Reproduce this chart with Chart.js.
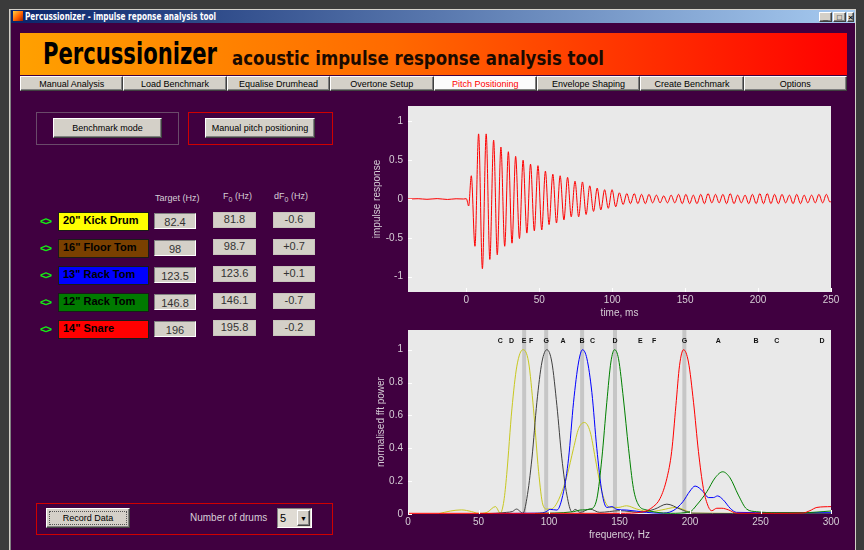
<!DOCTYPE html>
<html><head><meta charset="utf-8">
<script src="https://cdn.jsdelivr.net/npm/chart.js@4.4.1/dist/chart.umd.min.js"></script>
<style>
body{margin:0;width:864px;height:550px;overflow:hidden;background:#3b3b3b;font-family:"Liberation Sans",Arial,sans-serif;position:relative}
.a{position:absolute;box-sizing:border-box}
.btn{background:#d4d0c8;border-top:1px solid #fff;border-left:1px solid #fff;border-right:1px solid #404040;border-bottom:1px solid #404040;box-shadow:inset -1px -1px #808080;font-size:9px;color:#000;display:flex;align-items:center;justify-content:center;white-space:nowrap}
.fit{display:inline-block;white-space:nowrap;transform-origin:0 50%}
.lbl{color:#d6ced6;font-size:9px;white-space:nowrap}
.name{border:1px solid #1a1a1a;font-weight:bold;font-size:11px;color:#000;padding:1px 0 0 4px;line-height:13px;white-space:nowrap}
.tgt{background:#d4d0c8;border-top:1px solid #808080;border-left:1px solid #808080;border-bottom:1px solid #fff;border-right:1px solid #fff;font-size:11px;color:#333;text-align:center;line-height:17px}
.val{background:#d4d0c8;font-size:11px;color:#333;text-align:center;line-height:12px;border:1px solid #c8c4bc}
.arr{color:#10f010;font-weight:bold;font-size:11px;letter-spacing:-1px}
</style></head><body>
<div class="a" style="left:9px;top:9px;width:847px;height:545px;background:#d4d0c8"></div>
<div class="a" style="left:10px;top:10px;width:845px;height:541px;background:#808080"></div>
<div class="a" style="left:11px;top:10px;width:844px;height:13px;background:linear-gradient(90deg,#0a246a,#a6caf0)"></div>
<div class="a" style="left:13px;top:11px;width:10px;height:10px;background:linear-gradient(135deg,#ffd040,#ff6000 55%,#a02000)"></div>
<div class="a" style="left:25px;top:10px;height:13px;line-height:13px;color:#fff;font-weight:bold;font-size:11px;font-family:'DejaVu Sans Condensed','DejaVu Sans'"><span class="fit" id="wtitle">Percussionizer - impulse reponse analysis tool</span></div>
<div class="a btn" style="left:819px;top:12px;width:13px;height:10px;font-size:9px;line-height:8px;align-items:flex-end;font-weight:bold">_</div>
<div class="a btn" style="left:833px;top:12px;width:13px;height:10px;font-size:8px;font-weight:bold">□</div>
<div class="a btn" style="left:847px;top:12px;width:7px;height:10px;font-size:8px;font-weight:bold">×</div>
<div class="a" style="left:11px;top:23px;width:844px;height:527px;background:#400040"></div>

<div class="a" style="left:20px;top:33px;width:827px;height:42px;background:linear-gradient(90deg,#ffa000,#ff6a00 45%,#ff0000)"></div>
<div class="a" style="left:43px;top:36px;height:36px;line-height:36px;font-family:'DejaVu Sans Condensed','DejaVu Sans';font-weight:bold;font-size:30px;color:#000"><span class="fit" id="btitle">Percussionizer</span></div>
<div class="a" style="left:232px;top:45px;height:26px;line-height:26px;font-family:'DejaVu Sans';font-weight:bold;font-size:20px;color:#1a0a00"><span class="fit" id="bsub">acoustic impulse response analysis tool</span></div>
<div id="tabs"></div>

<div class="a" style="left:36px;top:112px;width:143px;height:33px;border:1px solid #6a4a6a"></div>
<div class="a btn" style="left:53px;top:118px;width:109px;height:20px">Benchmark mode</div>
<div class="a" style="left:188px;top:112px;width:145px;height:33px;border:1px solid #d00000"></div>
<div class="a btn" style="left:205px;top:118px;width:110px;height:20px">Manual pitch positioning</div>

<div class="a lbl" style="left:155px;top:193px">Target (Hz)</div>
<div class="a lbl" style="left:223px;top:191px">F<sub style="font-size:7px">0</sub> (Hz)</div>
<div class="a lbl" style="left:274px;top:191px">dF<sub style="font-size:7px">0</sub> (Hz)</div>
<div id="rows"></div>

<div class="a" style="left:36px;top:503px;width:297px;height:32px;border:1px solid #d00000"></div>
<div class="a btn" style="left:46px;top:508px;width:84px;height:20px"><div style="border:1px dotted #555;width:76px;height:12px;display:flex;align-items:center;justify-content:center">Record Data</div></div>
<div class="a lbl" style="left:190px;top:512px;font-size:10px">Number of drums</div>
<div class="a" style="left:277px;top:508px;width:35px;height:20px;background:#e0dcd4;border-top:1px solid #808080;border-left:1px solid #808080;border-bottom:1px solid #fff;border-right:1px solid #fff;font-size:11px;line-height:18px;padding-left:2px">5</div>
<div class="a btn" style="left:297px;top:510px;width:13px;height:16px;font-size:7px">▼</div>

<canvas id="c1" class="a" width="475" height="225" style="left:365px;top:100px"></canvas>
<canvas id="c2" class="a" width="475" height="225" style="left:365px;top:325px"></canvas>

<script>
// ---------- data ----------
const tabLabels = ["Manual Analysis","Load Benchmark","Equalise Drumhead","Overtone Setup","Pitch Positioning","Envelope Shaping","Create Benchmark","Options"];
const drumNames = ['20" Kick Drum','16" Floor Tom','13" Rack Tom','12" Rack Tom','14" Snare'];
const drumColors = ["#ffff00","#7a4000","#0000ff","#007a00","#ff0000"];
const targetHz = [82.4, 98, 123.5, 146.8, 196];
const measuredF0 = ["81.8","98.7","123.6","146.1","195.8"];
const deltaF0 = ["-0.6","+0.7","+0.1","-0.7","-0.2"];

const noteLetters = ["C","D","E","F","G","A","B","C","D","E","F","G","A","B","C","D"];
const noteFreqs = [65.4,73.4,82.4,87.3,98,110,123.5,130.8,146.8,164.8,174.6,196,220,246.9,261.6,293.7];

const timeTicks = [0,50,100,150,200,250];
const impulseTicks = [-1,-0.5,0,0.5,1];
const freqTicks = [0,50,100,150,200,250,300];
const powerTicks = [0,0.2,0.4,0.6,0.8,1];

// impulse response: extrema (ms, amplitude)
const impulseTime = [-40,-33,-27,-20,-13,-7,-2,0,1.6,3.4,5.9,8.4,11.0,13.6,16.1,18.7,21.2,23.7,26.3,28.8,31.3,33.8,36.4,38.9,41.5,44.0,46.6,49.1,51.7,54.2,56.7,59.3,61.8,64.3,66.9,69.4,71.9,74.5,77.0,79.6,82.1,84.6,87.2,89.7,92.2,94.8,97.3,99.9,102.4,104.9,107.5,110.0,112.5,115.1,117.6,120.1,122.7,125.2,127.7,130.3,132.8,135.3,137.9,140.4,142.9,145.5,148.0,150.5,153.1,155.6,158.1,160.7,163.2,165.7,168.3,170.8,173.3,175.9,178.4,180.9,183.5,186.0,188.5,191.1,193.6,196.1,198.7,201.2,203.7,206.3,208.8,211.3,213.9,216.4,218.9,221.5,224.0,226.5,229.1,231.6,234.1,236.7,239.2,241.7,244.3,246.8,249.3,250];
const impulseValue = [0,0.004,-0.004,0.005,-0.006,0.003,0,0.004,-0.09,0.30,-0.61,0.84,-0.90,0.84,-0.78,0.76,-0.72,0.67,-0.61,0.61,-0.57,0.55,-0.51,0.50,-0.44,0.45,-0.41,0.43,-0.40,0.36,-0.33,0.32,-0.31,0.30,-0.27,0.28,-0.23,0.23,-0.23,0.22,-0.20,0.17,-0.16,0.14,-0.14,0.12,-0.12,0.12,-0.10,0.08,-0.07,0.07,-0.06,0.07,-0.06,0.06,-0.06,0.06,-0.05,0.05,-0.05,0.04,-0.05,0.05,-0.05,0.06,-0.06,0.06,-0.06,0.05,-0.06,0.06,-0.06,0.07,-0.05,0.06,-0.05,0.06,-0.06,0.07,-0.06,0.05,-0.05,0.05,-0.06,0.06,-0.06,0.07,-0.06,0.07,-0.06,0.06,-0.06,0.06,-0.05,0.05,-0.06,0.06,-0.06,0.05,-0.05,0.05,-0.05,0.06,-0.05,0.06,-0.04,-0.03];

// normalised FFT power per drum (Hz, power)
const kickFreq  = [22,30,38,45,50,56,62,65.5,68,70,73.7,77.2,81.5,85.5,89,92.6,95.7,98.5,101,104,108,112.7,117.4,121,125.2,129.2,132.8,136.3,139.8,143.4,149,155,162.3,171.7,180,190,196,202,230,260,300];
const kickPower = [0.002,0.018,0.025,0.015,0.004,0.01,0.045,0.005,0.08,0.24,0.64,0.90,1.0,0.925,0.64,0.26,0.055,0.03,0.03,0.045,0.11,0.23,0.40,0.52,0.557,0.50,0.34,0.18,0.075,0.04,0.04,0.05,0.03,0.014,0.025,0.04,0.025,0.005,0.004,0.003,0.002];
const floorFreq  = [50,62,70,74,77,80,81.5,84.3,87.9,91.4,95,98.5,102,105.6,109.1,112.7,116.2,118.6,122,129,136,150,164.7,175,183.6,193,202,230,260,300];
const floorPower = [0.002,0.004,0.01,0.015,0.03,0.012,0.004,0.095,0.34,0.68,0.925,1.0,0.925,0.66,0.34,0.115,0.014,0.028,0.01,0.03,0.01,0.02,0.01,0.03,0.06,0.03,0.005,0.003,0.002,0.002];
const rack13Freq  = [60,90,97,100.9,105.6,110.3,113.9,117.4,121,123.8,126.9,130.4,133.9,137.5,141,144.6,148.1,155,169,178.8,188,195,200,203.6,209.5,213,216.6,219.5,223.7,228.5,233,260,300];
const rack13Power = [0.003,0.005,0.01,0.028,0.024,0.135,0.34,0.68,0.925,1.0,0.945,0.74,0.40,0.135,0.04,0.045,0.028,0.024,0.01,0.005,0.02,0.075,0.14,0.17,0.135,0.10,0.10,0.11,0.085,0.035,0.01,0.008,0.008];
const rack12Freq  = [90,117.4,122,129.2,134,137.5,141,143.9,146.5,149.3,152.8,156.4,159.9,163.5,169.4,176.5,186,200,204.8,211.9,217.8,223.2,228.4,234.3,240.2,247.3,261.5,280,300];
const rack12Power = [0.003,0.014,0.024,0.03,0.095,0.34,0.68,0.925,1.0,0.945,0.70,0.40,0.155,0.055,0.024,0.01,0.004,0.014,0.055,0.135,0.22,0.257,0.22,0.115,0.03,0.014,0.008,0.008,0.018];
const snareFreq  = [0,50,100,150,167,174,178.8,183.6,187,190,192.6,195.4,198.9,202.5,206,209.5,213,215.4,219,222.6,227.3,233,260,280,285,290,300];
const snarePower = [0.004,0.004,0.004,0.004,0.014,0.045,0.095,0.217,0.38,0.66,0.905,1.0,0.925,0.68,0.38,0.155,0.045,0.02,0.035,0.035,0.025,0.005,0.004,0.006,0.02,0.04,0.045];

// ---------- HTML widgets ----------
const tabs = document.getElementById('tabs');
tabLabels.forEach((t,i)=>{
  const d=document.createElement('div'); d.className='a btn';
  const l=20+i*103.375;
  d.style.cssText=`left:${l}px;top:76px;width:103.4px;height:15px;`+(i===4?'background:#fbfbfb;color:#ff0000;':'');
  d.textContent=t; tabs.appendChild(d);
});
const rows=document.getElementById('rows');
drumNames.forEach((n,i)=>{
  const top=212+i*27;
  rows.insertAdjacentHTML('beforeend',
   `<div class="a arr" style="left:40px;top:${top+3}px">&lt;&gt;</div>`+
   `<div class="a name" style="left:58px;top:${top}px;width:91px;height:19px;background:${drumColors[i]}">${n}</div>`+
   `<div class="a tgt" style="left:154px;top:${top+1}px;width:42px;height:16px">${targetHz[i]}</div>`+
   `<div class="a val" style="left:213px;top:${top}px;width:43px;height:16px">${measuredF0[i]}</div>`+
   `<div class="a val" style="left:273px;top:${top}px;width:42px;height:16px">${deltaF0[i]}</div>`);
});
function fit(id,w){const e=document.getElementById(id);const r=e.getBoundingClientRect().width;e.style.transform=`scaleX(${w/r})`;}
fit('wtitle',191); fit('btitle',174); fit('bsub',372);

// ---------- charts ----------
Chart.defaults.font.family='"Liberation Sans", Arial, sans-serif';
Chart.defaults.animation=false;
const txtCol='#d6ced6';
const axesPlugin={id:'axesBg',
  beforeDraw(c){const {ctx,chartArea:a}=c;ctx.save();ctx.fillStyle='#e9e9e9';ctx.fillRect(a.left,a.top,a.right-a.left,a.bottom-a.top);ctx.restore();},
  afterDraw(c){const {ctx,chartArea:a,scales:{x,y}}=c;ctx.save();ctx.strokeStyle='#ffffff';ctx.lineWidth=1;ctx.beginPath();
    x.ticks.forEach(t=>{const p=Math.round(x.getPixelForValue(t.value))+0.5;ctx.moveTo(p,a.bottom);ctx.lineTo(p,a.bottom-4);});
    y.ticks.forEach(t=>{const p=Math.round(y.getPixelForValue(t.value))+0.5;ctx.moveTo(a.left,p);ctx.lineTo(a.left+4,p);});
    ctx.stroke();ctx.restore();}};
function axis(min,max,ticks,title,isX,h,tpad){
  return {type:'linear',min,max,
    afterBuildTicks:s=>{s.ticks=ticks.map(v=>({value:v}));},
    afterFit:s=>{if(isX)s.height=h;else s.width=h;s.paddingTop=0;s.paddingBottom=0;s.paddingLeft=0;s.paddingRight=0;},
    grid:{display:false,drawTicks:false},border:{display:false},
    ticks:{color:txtCol,font:{size:10},padding:isX?2:5,autoSkip:false,maxRotation:0,callback:v=>String(v)},
    title:{display:true,text:title,color:txtCol,font:{size:10},padding:isX?{top:0,bottom:tpad}:{top:tpad,bottom:0}}};
}
new Chart(document.getElementById('c1'),{type:'line',
  data:{datasets:[{data:impulseTime.map((t,i)=>({x:t,y:impulseValue[i]})),borderColor:'#ff0000',borderWidth:1,pointRadius:0,cubicInterpolationMode:'monotone'}]},
  options:{responsive:false,devicePixelRatio:1,layout:{padding:{left:0,right:9,top:6,bottom:0}},
    plugins:{legend:{display:false},tooltip:{enabled:false}},
    scales:{x:axis(-40,250,timeTicks,'time, ms',true,33,6),y:axis(-1.2,1.2,impulseTicks,'impulse response',false,43,6)}},
  plugins:[axesPlugin]});

const noteLabelPlugin={id:'notes',afterDatasetsDraw(c){const {ctx,chartArea:a,scales:{x}}=c;ctx.save();ctx.fillStyle='#111';ctx.font='bold 7px "Liberation Sans", Arial';ctx.textAlign='center';ctx.textBaseline='middle';
  noteFreqs.forEach((f,i)=>ctx.fillText(noteLetters[i],x.getPixelForValue(f),a.top+11));ctx.restore();}};
const spec=(fx,py,col)=>({data:fx.map((f,i)=>({x:f,y:py[i]})),borderColor:col,borderWidth:1,pointRadius:0,cubicInterpolationMode:'monotone'});
const bars=targetHz.map(f=>({data:[{x:f,y:0},{x:f,y:1.12}],borderColor:'#c6c6c6',borderWidth:4,pointRadius:0,borderCapStyle:'butt',order:10}));
new Chart(document.getElementById('c2'),{type:'line',
  data:{datasets:[spec(snareFreq,snarePower,'#ff0000'),spec(rack12Freq,rack12Power,'#008000'),spec(rack13Freq,rack13Power,'#0000ff'),spec(floorFreq,floorPower,'#404040'),spec(kickFreq,kickPower,'#c8c820'),...bars]},
  options:{responsive:false,devicePixelRatio:1,layout:{padding:{left:0,right:9,top:5,bottom:0}},
    plugins:{legend:{display:false},tooltip:{enabled:false}},
    scales:{x:axis(0,300,freqTicks,'frequency, Hz',true,36,9),y:axis(0,1.12,powerTicks,'normalised fft power',false,43,10)}},
  plugins:[axesPlugin,noteLabelPlugin]});
</script>
</body></html>
